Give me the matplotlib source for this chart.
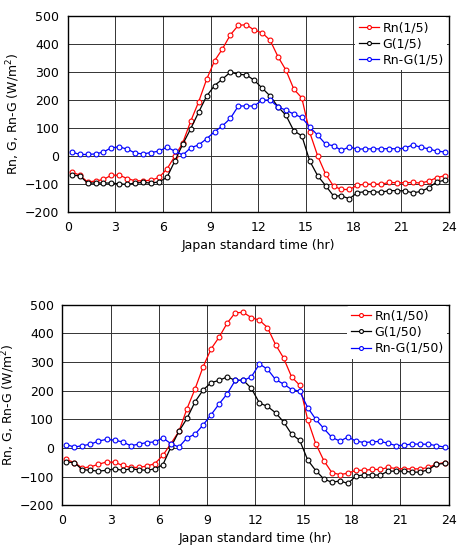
import numpy as np
import matplotlib
matplotlib.use("Agg")
import matplotlib.pyplot as plt

# half-hourly centres, 0.25 ... 23.75
hours = np.arange(0.25, 24, 0.5)

# 1/5 case
rn_5 = [-56, -68, -92, -89, -83, -68, -68, -80, -88, -88, -86, -76,
        -46, 0, 48, 125, 194, 274, 340, 383, 433, 467, 469, 450,
        440, 414, 355, 307, 239, 208, 85, 1, -64, -107, -119, -119,
        -104, -100, -100, -100, -94, -95, -95, -94, -96, -89, -77, -70]
g_5 = [-68, -70, -96, -96, -96, -96, -99, -101, -96, -94, -96, -92,
       -76, -17, 43, 98, 157, 214, 252, 275, 300, 292, 290, 271,
       243, 215, 176, 146, 90, 73, -17, -70, -105, -142, -142, -152,
       -130, -127, -127, -129, -123, -123, -124, -131, -126, -113, -92, -86]
rng_5 = [15, 6, 6, 8, 15, 30, 33, 25, 11, 8, 13, 18,
         32, 18, 4, 30, 40, 62, 87, 108, 135, 179, 179, 179,
         200, 200, 176, 164, 150, 138, 104, 75, 43, 37, 21, 33,
         25, 26, 26, 26, 27, 26, 29, 40, 32, 26, 18, 15]

# 1/50 case
rn_50 = [-40, -51, -70, -66, -57, -49, -50, -61, -68, -68, -63, -55,
         -26, 15, 58, 137, 206, 283, 346, 387, 436, 472, 473, 455,
         446, 420, 361, 314, 248, 219, 98, 15, -44, -86, -93, -88,
         -78, -78, -75, -75, -68, -72, -73, -73, -73, -68, -56, -51]
g_50 = [-49, -51, -76, -78, -81, -78, -73, -78, -73, -76, -78, -73,
        -59, 3, 58, 103, 161, 202, 228, 236, 248, 236, 236, 208,
        157, 145, 123, 91, 48, 27, -42, -79, -108, -120, -115, -124,
        -98, -94, -94, -95, -81, -81, -81, -85, -84, -76, -57, -54]
rng_50 = [12, 3, 8, 13, 24, 30, 27, 21, 8, 13, 19, 21,
          35, 15, 3, 35, 48, 80, 116, 154, 189, 236, 236, 248,
          293, 275, 239, 223, 204, 198, 141, 100, 68, 37, 24, 38,
          24, 19, 21, 23, 16, 8, 10, 14, 13, 13, 8, 3]

fig = plt.figure(figsize=(4.61, 5.54), dpi=100)
ax1 = fig.add_axes([0.147, 0.617, 0.826, 0.354])
ax2 = fig.add_axes([0.135, 0.088, 0.838, 0.362])


def draw(ax, rn, g, rng, tag):
    style = dict(marker="o", ms=3.5, mfc="white", mew=0.8, lw=0.9)
    ax.plot(hours, rn, color="#ff0000", label="Rn(%s)" % tag, **style)
    ax.plot(hours, g, color="black", label="G(%s)" % tag, **style)
    ax.plot(hours, rng, color="#0000ff", label="Rn-G(%s)" % tag, **style)
    ax.set_xlim(0, 24)
    ax.set_ylim(-200, 500)
    ax.set_xticks(range(0, 25, 3))
    ax.set_yticks(range(-200, 501, 100))
    ax.grid(True, color="#333333", lw=0.7)
    ax.set_axisbelow(True)
    ax.tick_params(length=0, labelsize=9, pad=6)
    for s in ax.spines.values():
        s.set_color("black")
        s.set_linewidth(1.0)
    ax.set_xlabel("Japan standard time (hr)", fontsize=9, labelpad=4)
    ax.set_ylabel(r"Rn, G, Rn-G (W/m$^2$)", fontsize=9, labelpad=2)
    leg = ax.legend(loc="upper right", fontsize=9, frameon=True,
                    handlelength=1.6, handletextpad=0.3, labelspacing=0.25,
                    borderpad=0.3, borderaxespad=0.1, markerscale=0.8)
    leg.get_frame().set_edgecolor("none")
    leg.get_frame().set_facecolor("white")
    leg.get_frame().set_alpha(1)


draw(ax1, rn_5, g_5, rng_5, "1/5")
draw(ax2, rn_50, g_50, rng_50, "1/50")

fig.savefig("out.png", dpi=100)
